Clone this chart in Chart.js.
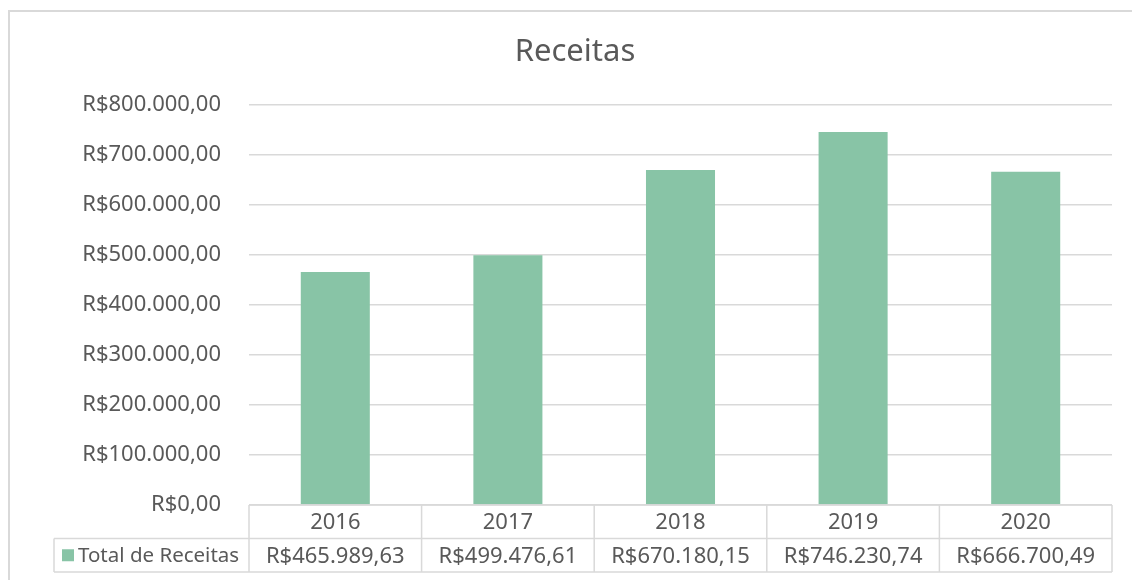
<!DOCTYPE html>
<html>
<head>
<meta charset="utf-8">
<script src="https://cdn.jsdelivr.net/npm/chart.js@4/dist/chart.umd.min.js"></script>
<style>
  html, body { margin: 0; padding: 0; background: #fff; }
  #wrap { width: 1132px; height: 580px; position: relative; }
</style>
</head>
<body>
<div id="wrap"><canvas id="chart"></canvas></div>
<script>
// Receitas por ano
const years = ['2016', '2017', '2018', '2019', '2020'];
const receitas = [465989.63, 499476.61, 670180.15, 746230.74, 666700.49];
const seriesName = 'Total de Receitas';
const chartTitle = 'Receitas';

const textColor = '#595959';
const gridColor = '#d9d9d9';
const barColor = '#88c4a6';
const fontFamily = '"Noto Sans", sans-serif';

function brl(v) {
  return 'R$' + v.toLocaleString('pt-BR', { minimumFractionDigits: 2, maximumFractionDigits: 2 });
}

// draws the outer frame, the title and the data table under the plot
const tablePlugin = {
  id: 'dataTable',
  beforeDraw(chart) {
    const ctx = chart.ctx;
    ctx.save();
    ctx.strokeStyle = gridColor;
    ctx.lineWidth = 2;
    ctx.strokeRect(9, 11, 1150, 600);
    ctx.fillStyle = textColor;
    ctx.font = '31px ' + fontFamily;
    ctx.textAlign = 'center';
    ctx.textBaseline = 'middle';
    ctx.fillText(chartTitle, 575, 52);
    ctx.restore();
  },
  afterDraw(chart) {
    const ctx = chart.ctx;
    const x = chart.scales.x;
    const area = chart.chartArea;
    const top = area.bottom;
    const rowH = 33.5;
    const legendLeft = 54;
    const step = x.getPixelForValue(1) - x.getPixelForValue(0);
    const edges = years.map((y, i) => x.getPixelForValue(i) - step / 2);
    edges.push(x.getPixelForValue(years.length - 1) + step / 2);

    ctx.save();
    ctx.strokeStyle = gridColor;
    ctx.lineWidth = 1.5;
    ctx.beginPath();
    // horizontal lines
    ctx.moveTo(edges[0], top); ctx.lineTo(edges[edges.length - 1], top);
    ctx.moveTo(legendLeft, top + rowH); ctx.lineTo(edges[edges.length - 1], top + rowH);
    ctx.moveTo(legendLeft, top + 2 * rowH); ctx.lineTo(edges[edges.length - 1], top + 2 * rowH);
    // vertical lines
    edges.forEach(e => { ctx.moveTo(e, top); ctx.lineTo(e, top + 2 * rowH); });
    ctx.moveTo(legendLeft, top + rowH); ctx.lineTo(legendLeft, top + 2 * rowH);
    ctx.stroke();

    ctx.fillStyle = textColor;
    ctx.font = '22px ' + fontFamily;
    ctx.textAlign = 'center';
    ctx.textBaseline = 'middle';
    years.forEach((y, i) => {
      const cx = x.getPixelForValue(i);
      ctx.fillText(y, cx, top + rowH / 2 + 1);
      ctx.fillText(brl(receitas[i]), cx, top + rowH * 1.5 + 1);
    });

    // legend key
    ctx.fillStyle = barColor;
    ctx.fillRect(62, top + rowH * 1.5 - 6, 12, 12);
    ctx.fillStyle = textColor;
    ctx.font = '20.5px ' + fontFamily;
    ctx.textAlign = 'left';
    ctx.fillText(seriesName, 78, top + rowH * 1.5 + 1);
    ctx.restore();
  }
};

new Chart(document.getElementById('chart'), {
  type: 'bar',
  data: {
    labels: years,
    datasets: [{
      label: seriesName,
      data: receitas,
      backgroundColor: barColor,
      barPercentage: 0.4,
      categoryPercentage: 1.0
    }]
  },
  options: {
    responsive: true,
    maintainAspectRatio: false,
    animation: false,
    layout: { padding: { top: 105, right: 20, bottom: 0, left: 0 } },
    plugins: {
      legend: { display: false },
      tooltip: { enabled: false },
      title: { display: false }
    },
    scales: {
      x: {
        grid: { display: false },
        border: { display: false },
        ticks: { display: false },
        afterFit(s) { s.height = 75; }
      },
      y: {
        min: 0,
        max: 800000,
        ticks: {
          stepSize: 100000,
          color: textColor,
          padding: 28,
          font: { family: fontFamily, size: 22 },
          callback: v => brl(v)
        },
        grid: { color: gridColor, lineWidth: 1.5, drawTicks: false },
        border: { display: false },
        afterFit(s) { s.width = 249; }
      }
    }
  },
  plugins: [tablePlugin]
});
</script>
</body>
</html>
